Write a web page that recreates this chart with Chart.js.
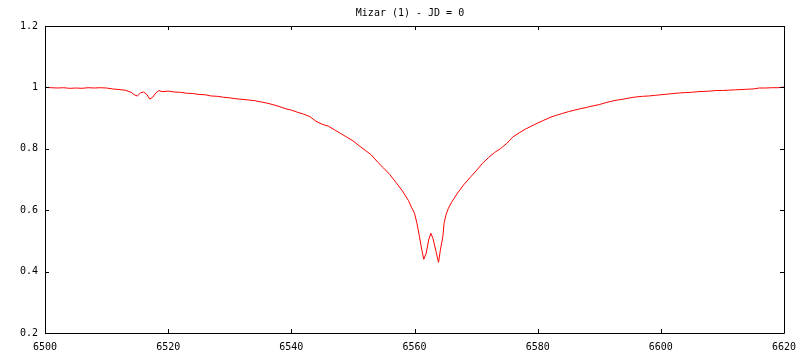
<!DOCTYPE html>
<html>
<head>
<meta charset="utf-8">
<script src="https://cdn.jsdelivr.net/npm/chart.js@4/dist/chart.umd.min.js"></script>
<style>
  html, body { margin: 0; padding: 0; background: #fff; }
  #wrap { width: 800px; height: 360px; }
</style>
</head>
<body>
<div id="wrap"><canvas id="c" width="800" height="360"></canvas></div>
<script>
const titleText = "Mizar (1) - JD = 0";

const wavelength = [
  6500, 6501, 6502, 6503, 6504, 6505, 6506, 6507, 6508, 6509,
  6510, 6511, 6512, 6513, 6514, 6514.5, 6515, 6515.5, 6516, 6516.5,
  6517, 6517.5, 6518, 6518.5, 6519, 6520, 6521, 6522, 6523, 6524,
  6525, 6526, 6527, 6528, 6529, 6530, 6531, 6532, 6533, 6534,
  6535, 6536, 6537, 6538, 6539, 6540, 6541, 6542, 6543, 6544,
  6545, 6546, 6547, 6548, 6549, 6550, 6551, 6552, 6553, 6554,
  6555, 6556, 6557, 6558, 6559, 6559.5, 6560, 6560.4, 6560.8, 6561.2,
  6561.5, 6561.9, 6562.3, 6562.65, 6563.0, 6563.5, 6563.9, 6564.2, 6564.6, 6564.8,
  6565.1, 6565.5, 6566, 6567, 6568, 6569, 6570, 6571, 6572, 6573,
  6574, 6575, 6576, 6577, 6578, 6579, 6580, 6581, 6582, 6583,
  6584, 6585, 6586, 6587, 6588, 6589, 6590, 6591, 6592, 6593,
  6594, 6595, 6596, 6597, 6598, 6599, 6600, 6601, 6602, 6603,
  6604, 6605, 6606, 6607, 6608, 6609, 6610, 6611, 6612, 6613,
  6614, 6615, 6616, 6617, 6618, 6619, 6620
];

const flux = [
  1.000, 0.999, 0.998, 0.999, 0.997, 0.998, 0.997, 0.999, 0.998, 0.999,
  0.998, 0.995, 0.993, 0.991, 0.984, 0.976, 0.972, 0.982, 0.985, 0.978,
  0.962, 0.968, 0.982, 0.990, 0.986, 0.988, 0.985, 0.984, 0.981, 0.980,
  0.977, 0.976, 0.972, 0.971, 0.968, 0.966, 0.963, 0.961, 0.959, 0.957,
  0.953, 0.949, 0.944, 0.938, 0.931, 0.926, 0.919, 0.913, 0.905, 0.890,
  0.880, 0.874, 0.862, 0.850, 0.838, 0.826, 0.810, 0.795, 0.780, 0.757,
  0.737, 0.716, 0.690, 0.664, 0.632, 0.610, 0.590, 0.557, 0.514, 0.470,
  0.440, 0.460, 0.503, 0.525, 0.508, 0.465, 0.430, 0.470, 0.514, 0.557,
  0.584, 0.606, 0.625, 0.656, 0.683, 0.706, 0.728, 0.752, 0.771, 0.788,
  0.801, 0.818, 0.839, 0.852, 0.864, 0.874, 0.884, 0.893, 0.902, 0.909,
  0.915, 0.921, 0.926, 0.931, 0.935, 0.940, 0.944, 0.950, 0.955, 0.959,
  0.962, 0.966, 0.969, 0.971, 0.972, 0.974, 0.976, 0.978, 0.980, 0.982,
  0.983, 0.984, 0.986, 0.987, 0.988, 0.990, 0.990, 0.991, 0.992, 0.993,
  0.994, 0.995, 0.998, 0.998, 0.999, 0.999, 1.001
];

const xMin = 6500, xMax = 6620, xStep = 20;
const yMin = 0.2, yMax = 1.2, yStep = 0.2;

const points = wavelength.map((w, i) => ({ x: w, y: flux[i] }));

const FONT = "'DejaVu Sans Mono', 'Liberation Mono', monospace";

const framePlugin = {
  id: 'frame',
  afterDraw(chart) {
    const { ctx, chartArea: a, scales } = chart;
    ctx.save();
    ctx.strokeStyle = '#000';
    ctx.lineWidth = 1;
    ctx.beginPath();
    ctx.rect(Math.round(a.left) + 0.5, Math.round(a.top) + 0.5,
             Math.round(a.right - a.left), Math.round(a.bottom - a.top));
    ctx.stroke();
    const L = 4;
    ctx.beginPath();
    scales.x.ticks.forEach(t => {
      const px = Math.round(scales.x.getPixelForValue(t.value)) + 0.5;
      ctx.moveTo(px, a.bottom); ctx.lineTo(px, a.bottom - L);
      ctx.moveTo(px, a.top); ctx.lineTo(px, a.top + L);
    });
    scales.y.ticks.forEach(t => {
      const py = Math.round(scales.y.getPixelForValue(t.value)) + 0.5;
      ctx.moveTo(a.left, py); ctx.lineTo(a.left + L, py);
      ctx.moveTo(a.right, py); ctx.lineTo(a.right - L, py);
    });
    ctx.stroke();
    ctx.fillStyle = '#000';
    ctx.font = "10px " + FONT;
    ctx.textAlign = 'center';
    ctx.textBaseline = 'middle';
    ctx.fillText(titleText, 410, 13);
    ctx.restore();
  }
};

new Chart(document.getElementById('c'), {
  type: 'line',
  data: {
    datasets: [{
      data: points,
      borderColor: '#ff0000',
      borderWidth: 1,
      pointRadius: 0,
      fill: false,
      tension: 0
    }]
  },
  options: {
    responsive: false,
    animation: false,
    layout: { padding: { left: 0, right: 16, top: 26, bottom: 0 } },
    plugins: {
      legend: { display: false },
      tooltip: { enabled: false },
      title: { display: false }
    },
    scales: {
      x: {
        type: 'linear',
        min: xMin, max: xMax,
        grid: { display: false, drawTicks: false },
        border: { display: false },
        afterFit(s) { s.height = 27; s.paddingLeft = 0; s.paddingRight = 0; },
        ticks: {
          stepSize: xStep,
          color: '#000',
          padding: 8,
          maxRotation: 0,
          autoSkip: false,
          font: { family: FONT, size: 10 },
          callback: v => String(v)
        }
      },
      y: {
        type: 'linear',
        min: yMin, max: yMax,
        grid: { display: false, drawTicks: false },
        border: { display: false },
        afterFit(s) { s.width = 45; s.paddingTop = 0; s.paddingBottom = 0; },
        ticks: {
          stepSize: yStep,
          color: '#000',
          padding: 7,
          font: { family: FONT, size: 10 },
          callback: v => String(+Number(v).toFixed(2))
        }
      }
    }
  },
  plugins: [framePlugin]
});
</script>
</body>
</html>
